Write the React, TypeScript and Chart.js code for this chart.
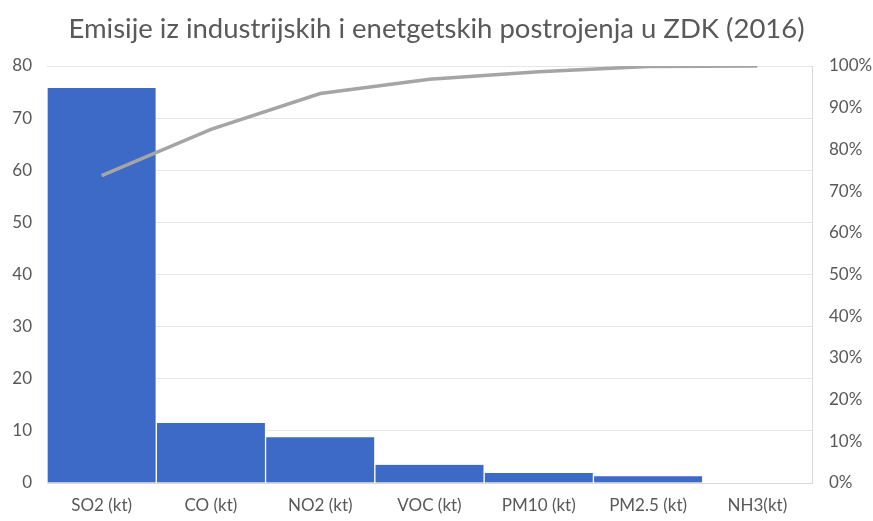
import React, { useEffect, useRef } from "react";
import { Chart, registerables } from "chart.js";

Chart.register(...registerables);

const categories = ["SO2 (kt)", "CO (kt)", "NO2 (kt)", "VOC (kt)", "PM10 (kt)", "PM2.5 (kt)", "NH3(kt)"];
const emissions = [75.8, 11.5, 8.8, 3.5, 1.9, 1.3, 0.1];
const cumulativePct = [73.7, 84.8, 93.4, 96.8, 98.6, 99.9, 100];
const titleText = "Emisije iz industrijskih i enetgetskih postrojenja u ZDK (2016)";

export default function App() {
  const ref = useRef<HTMLCanvasElement | null>(null);
  useEffect(() => {
    document.body.style.margin = "0";
    if (!ref.current) return;
    const font = "Lato, 'Open Sans', sans-serif";
    const chart = new Chart(ref.current, {
      type: "bar",
      data: {
        labels: categories,
        datasets: [
          {
            type: "line",
            label: "Cumulative",
            data: cumulativePct,
            yAxisID: "y1",
            borderColor: "#a5a5a5",
            borderWidth: 3.5,
            pointRadius: 0,
            tension: 0,
            order: 0,
          },
          {
            type: "bar",
            label: "Emisije",
            data: emissions,
            yAxisID: "y",
            backgroundColor: "#3d69c7",
            borderColor: "#ffffff",
            borderWidth: { left: 1, right: 1, top: 0, bottom: 0 },
            categoryPercentage: 1,
            barPercentage: 1,
            order: 1,
          },
        ],
      },
      options: {
        animation: false,
        responsive: false,
        layout: { padding: { left: 0, right: 0, top: 9, bottom: 0 } },
        plugins: {
          legend: { display: false },
          tooltip: { enabled: false },
          title: {
            display: true,
            text: titleText,
            color: "#595959",
            font: { family: font, size: 27.5, weight: "normal" },
            padding: { top: 4, bottom: 20 },
          },
        },
        scales: {
          x: {
            grid: { display: false, drawTicks: false },
            border: { display: true, color: "#d9d9d9" },
            ticks: { color: "#595959", font: { family: font, size: 17 }, padding: 12, maxRotation: 0 },
            afterFit: (s: any) => {
              s.height = 38;
            },
          },
          y: {
            position: "left",
            min: 0,
            max: 80,
            ticks: { stepSize: 10, color: "#595959", font: { family: font, size: 17 }, padding: 15 },
            grid: { color: "#e6e6e6", drawTicks: false },
            border: { display: false },
            afterFit: (s: any) => {
              s.width = 47;
            },
          },
          y1: {
            position: "right",
            min: 0,
            max: 100,
            ticks: {
              stepSize: 10,
              color: "#595959",
              font: { family: font, size: 17 },
              padding: 17,
              callback: (v: any) => `${v}%`,
            },
            grid: { display: false, drawTicks: false },
            border: { display: true, color: "#d9d9d9" },
            afterFit: (s: any) => {
              s.width = 61;
            },
          },
        },
      },
    });
    return () => chart.destroy();
  }, []);
  return <canvas ref={ref} width={873} height={521} style={{ display: "block" }} />;
}
